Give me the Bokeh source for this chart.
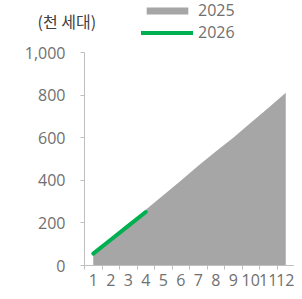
from bokeh.plotting import figure
from bokeh.models import (Range1d, FixedTicker, NumeralTickFormatter, Legend, LegendItem,
                          Label, ColumnDataSource)
from bokeh.embed import file_html
from bokeh.resources import INLINE

months = ["1", "2", "3", "4", "5", "6", "7", "8", "9", "10", "11", "12"]
values_2025 = [48, 118, 188, 262, 330, 398, 468, 535, 600, 670, 740, 811]
values_2026 = [56, 121, 186, 251]
unit_label = "(천 세대)"
series_names = ["2025", "2026"]
y_ticks = [0, 200, 400, 600, 800, 1000]

GREY = "#a6a6a6"
GREEN = "#00b050"
TXT = "#707070"
AXC = "#bfbfbf"

W, H = 294, 291
X0_PX = 84             # pixel of x = 0
UX = (W - X0_PX) / 12  # px per month
Y0_PX = 265            # pixel of y = 0
Y1000_PX = 52
UY = (Y0_PX - Y1000_PX) / 1000

x25 = [i + 0.5 for i in range(len(values_2025))]
x26 = [i + 0.5 for i in range(len(values_2026))]

p = figure(width=W, height=H, output_backend="svg", toolbar_location=None,
           x_range=Range1d(-X0_PX / UX, (W - X0_PX) / UX),
           y_range=Range1d(-(H - Y0_PX) / UY, Y0_PX / UY),
           min_border=0)
p.outline_line_color = None
p.xgrid.visible = False
p.ygrid.visible = False
p.background_fill_color = "white"
p.border_fill_color = "white"

src25 = ColumnDataSource(dict(x=x25, y=values_2025, y0=[0] * len(values_2025)))
src26 = ColumnDataSource(dict(x=x26, y=values_2026))
area = p.varea(x="x", y1="y0", y2="y", source=src25, fill_color=GREY, fill_alpha=1)
line = p.line(x="x", y="y", source=src26, line_color=GREEN, line_width=4, line_cap="round")

# y axis, pinned at x = 0
ya = p.yaxis[0]
ya.fixed_location = 0
ya.bounds = (0, 1000)
ya.ticker = FixedTicker(ticks=y_ticks)
ya.formatter = NumeralTickFormatter(format="0,0")
ya.axis_line_color = AXC
ya.major_tick_line_color = AXC
ya.major_tick_out = 4
ya.major_tick_in = 0
ya.minor_tick_line_color = None
ya.major_label_text_font = "Open Sans"
ya.major_label_text_font_size = "16px"
ya.major_label_text_color = TXT
ya.major_label_standoff = 15

# x axis, pinned at y = 0
xa = p.xaxis[0]
xa.fixed_location = 0
xa.bounds = (0, 12)
xa.ticker = FixedTicker(ticks=x25, minor_ticks=list(range(0, 13)))
xa.major_label_overrides = {x: m for x, m in zip(x25, months)}
xa.axis_line_color = AXC
xa.major_tick_out = 0
xa.major_tick_in = 0
xa.major_tick_line_color = None
xa.minor_tick_line_color = AXC
xa.minor_tick_out = 4
xa.minor_tick_in = 0
xa.major_label_text_font = "Open Sans"
xa.major_label_text_font_size = "16px"
xa.major_label_text_color = TXT
xa.major_label_standoff = 4

legend = Legend(items=[LegendItem(label=series_names[0], renderers=[area]),
                       LegendItem(label=series_names[1], renderers=[line])],
                location=(141, H - 43), orientation="vertical",
                glyph_width=52, glyph_height=9, label_standoff=5, spacing=-5,
                padding=0, margin=0, border_line_color=None, background_fill_alpha=0,
                label_text_font="Open Sans", label_text_font_size="16px",
                label_text_color=TXT)
p.add_layout(legend, "center")

title = Label(x=(37 - X0_PX) / UX, y=(Y0_PX - 20) / UY, text=unit_label,
              text_font="Noto Sans CJK KR", text_font_size="16px", text_color="#404040",
              text_baseline="middle", text_align="left")
p.add_layout(title)

open("out.html", "w").write(file_html(p, INLINE))
